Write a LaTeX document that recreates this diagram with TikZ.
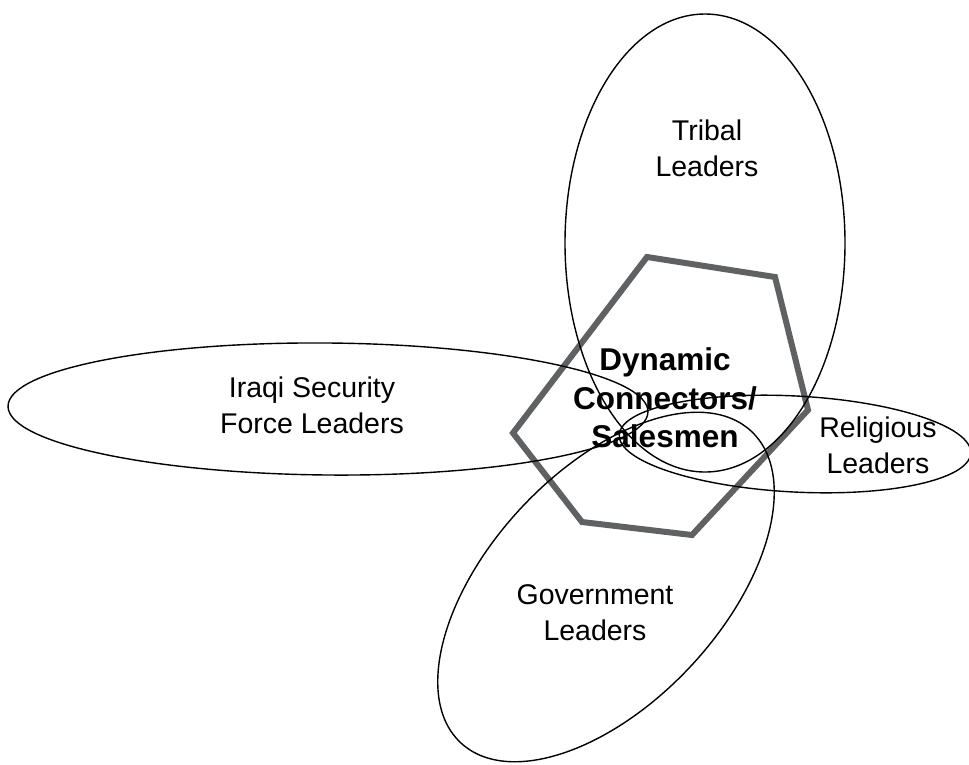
\documentclass[tikz,border=0pt]{standalone}
\usepackage{fontspec}
\setmainfont{Liberation Sans}
\begin{document}
\begin{tikzpicture}[x=1pt,y=-1pt,
  ring/.style={draw=black,line width=1.4pt},
  hexline/.style={draw={rgb,255:red,96;green,97;blue,99},line width=6pt,line join=miter},
  lbl/.style={align=center,font=\fontsize{28.5}{36}\selectfont,inner sep=0pt},
  core/.style={align=center,font=\fontsize{31.5}{38.5}\selectfont\bfseries,inner sep=0pt}]
\useasboundingbox (0,0) rectangle (969,764);
% hexagon
\coordinate (h1) at (647,257);
\coordinate (h2) at (775,277);
\coordinate (h3) at (808,410);
\coordinate (h4) at (692,535);
\coordinate (h5) at (582,522);
\coordinate (h6) at (513,433);
\draw[hexline] (h1) -- (h2) -- (h3) -- (h4) -- (h5) -- (h6) -- cycle;
% ellipses
\draw[ring] (705,243) ellipse (140 and 229);
\draw[ring,rotate around={-0.5:(328,409)}] (328,409) ellipse (320 and 66);
\draw[ring,rotate around={-3:(795,444)}] (795,444) ellipse (176 and 48);
\draw[ring,rotate around={47:(606,587)}] (606,587) ellipse (213 and 116);
% labels
\node[lbl] (tribal) at (707,148) {Tribal\\Leaders};
\node[lbl] (iraqi) at (312,405) {Iraqi Security\\Force Leaders};
\node[lbl] (relig) at (878,445) {Religious\\Leaders};
\node[lbl] (gov) at (595,613) {Government\\Leaders};
\node[core] (dyn) at (665,398) {Dynamic\\Connectors/\\Salesmen};
\end{tikzpicture}
\end{document}
